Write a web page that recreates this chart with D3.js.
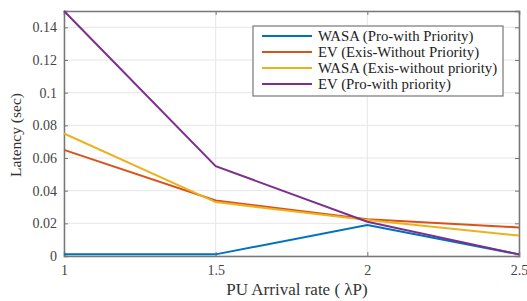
<!DOCTYPE html>
<html>
<head>
<meta charset="utf-8">
<script src="https://cdn.jsdelivr.net/npm/d3@7"></script>
<style>
body { margin: 0; background: #fff; }
svg { display: block; font-family: "Liberation Serif", "Times New Roman", serif; }
</style>
</head>
<body>
<svg width="527" height="301"></svg>
<script>
const xVals = [1, 1.5, 2, 2.5];
const xTicks = [1, 1.5, 2, 2.5];
const yTicks = [0, 0.02, 0.04, 0.06, 0.08, 0.1, 0.12, 0.14];
const seriesNames = ["WASA (Pro-with Priority)", "EV (Exis-Without Priority)", "WASA (Exis-without priority)", "EV (Pro-with priority)"];
const wasaPro = [0.001, 0.001, 0.019, 0.001];
const evExis = [0.065, 0.034, 0.0225, 0.0175];
const wasaExis = [0.075, 0.033, 0.022, 0.0125];
const evPro = [0.15, 0.055, 0.021, 0.001];
const colors = ["#0072BD", "#D95319", "#EDB120", "#7E2F8E"];

const svg = d3.select("svg");
const pLeft = 64, pRight = 519, pTop = 11, pBottom = 256;
const x = d3.scaleLinear().domain([1, 2.5]).range([pLeft, pRight]);
const y = d3.scaleLinear().domain([0, 0.15]).range([pBottom, pTop]);

// grid
svg.append("g").selectAll("line").data(yTicks).join("line")
  .attr("x1", pLeft).attr("x2", pRight)
  .attr("y1", d => y(d)).attr("y2", d => y(d))
  .attr("stroke", "#e6e6e6");
svg.append("g").selectAll("line").data(xTicks).join("line")
  .attr("y1", pTop).attr("y2", pBottom)
  .attr("x1", d => x(d)).attr("x2", d => x(d))
  .attr("stroke", "#e6e6e6");

// axes
const axisColor = "#777";
const yAx = svg.append("g").attr("transform", `translate(${pLeft},0)`)
  .call(d3.axisLeft(y).tickValues(yTicks).tickSize(-4).tickPadding(7).tickFormat(d => d === 0 ? "0" : String(+d.toFixed(2))));
const yAxR = svg.append("g").attr("transform", `translate(${pRight},0)`)
  .call(d3.axisRight(y).tickValues(yTicks).tickSize(-4).tickFormat(""));
const xAx = svg.append("g").attr("transform", `translate(0,${pBottom})`)
  .call(d3.axisBottom(x).tickValues(xTicks).tickSize(-4).tickPadding(9).tickFormat(d => d));
const xAxT = svg.append("g").attr("transform", `translate(0,${pTop})`)
  .call(d3.axisTop(x).tickValues(xTicks).tickSize(-4).tickFormat(""));
[yAx, yAxR, xAx, xAxT].forEach(g => {
  g.attr("font-family", null);
  g.select(".domain").attr("stroke", axisColor).attr("stroke-width", 1.5);
  g.selectAll(".tick line").attr("stroke", axisColor);
  g.selectAll("text").attr("fill", "#444").style("font-size", "14px").style("font-family", "'Liberation Serif', serif");
});

// lines
const allSeries = [wasaPro, evExis, wasaExis, evPro];
const line = d3.line().x((d, i) => x(xVals[i])).y(d => y(d));
svg.append("g").selectAll("path").data(allSeries).join("path")
  .attr("d", line)
  .attr("fill", "none")
  .attr("stroke", (d, i) => colors[i])
  .attr("stroke-width", 2);

// legend
const lg = svg.append("g");
lg.append("rect").attr("x", 253).attr("y", 26).attr("width", 250).attr("height", 70)
  .attr("fill", "#fff").attr("stroke", "#777").attr("stroke-width", 1.2);
seriesNames.forEach((name, i) => {
  const yy = 36 + i * 16;
  lg.append("line").attr("x1", 262).attr("x2", 312).attr("y1", yy).attr("y2", yy)
    .attr("stroke", colors[i]).attr("stroke-width", 2);
  lg.append("text").attr("x", 318).attr("y", yy + 4.5).attr("font-size", 14.8).attr("fill", "#222").text(name);
});

// axis labels
svg.append("text").attr("x", 297).attr("y", 295).attr("text-anchor", "middle")
  .attr("font-size", 17).attr("fill", "#333").text("PU Arrival rate ( \u03BBP)");
svg.append("text").attr("transform", `translate(21,135) rotate(-90)`)
  .attr("text-anchor", "middle").attr("font-size", 15.5).attr("fill", "#333").text("Latency (sec)");
</script>
</body>
</html>
